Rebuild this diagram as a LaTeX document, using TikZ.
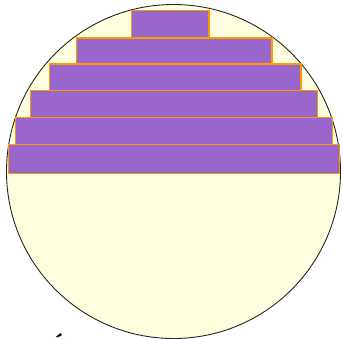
\documentclass[tikz,border=0pt]{standalone}
\begin{document}
\begin{tikzpicture}[x=1pt,y=-1pt,
  tier/.style={draw=tierline, line width=1.2pt, fill=amethyst, inner sep=0pt, outer sep=0pt},
  disc/.style={draw=black!85, line width=0.9pt, fill=lightyel}]
\definecolor{amethyst}{HTML}{9966CC}
\definecolor{lightyel}{HTML}{FFFFE0}
\definecolor{tierline}{HTML}{FF9900}
\useasboundingbox (0,0) rectangle (343,339);
\node[disc, circle, minimum size=334pt, inner sep=0pt] (c) at (173.5,171.5) {};
\node[tier, minimum width=331.4pt, minimum height=29.4pt] (r6) at (174,159) {};
\node[tier, minimum width=316.6pt, minimum height=27pt] (r5) at (174,130.8) {};
\node[tier, minimum width=287pt, minimum height=26.6pt] (r4) at (173.8,104) {};
\node[tier, minimum width=251.3pt, minimum height=26.7pt] (r3) at (175.3,77.4) {};
\node[tier, minimum width=195.7pt, minimum height=26pt] (r2) at (174.2,51) {};
\node[tier, minimum width=77.3pt, minimum height=27.7pt] (r1) at (170.3,24.2) {};
\node[anchor=north, inner sep=0pt, font=\fontsize{25}{25}\selectfont\bfseries] (t) at (58,334) {É};
\end{tikzpicture}
\end{document}
